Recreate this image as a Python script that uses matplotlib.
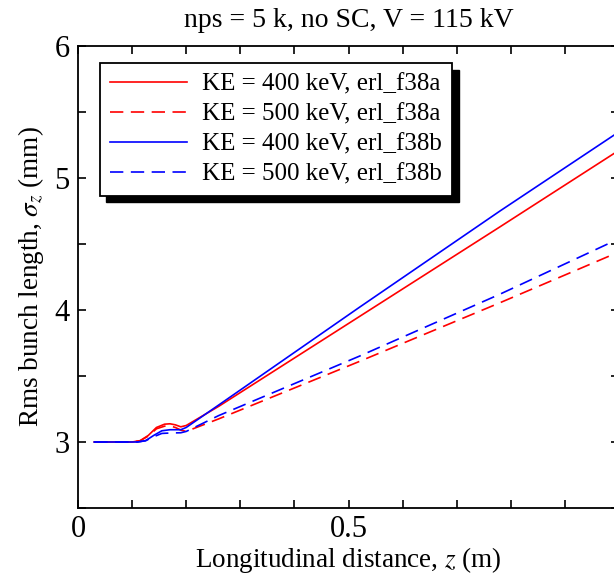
import matplotlib
matplotlib.use("Agg")
import matplotlib.pyplot as plt
from matplotlib.patches import Rectangle
from matplotlib.transforms import IdentityTransform
from matplotlib.ticker import MultipleLocator

plt.rcParams['font.family'] = ['Liberation Serif', 'DejaVu Serif']
plt.rcParams['mathtext.fontset'] = 'stix'

title = "nps = 5 k, no SC, V = 115 kV"
xlabel = r"Longitudinal distance, $z$ (m)"
ylabel = r"Rms bunch length, $\sigma_z$ (mm)"

labels = ["KE = 400 keV, erl_f38a", "KE = 500 keV, erl_f38a",
          "KE = 400 keV, erl_f38b", "KE = 500 keV, erl_f38b"]

# KE = 400 keV, erl_f38a
z_a400 = [0.03, 0.10, 0.115, 0.13, 0.145, 0.16, 0.17, 0.18, 0.19, 0.20, 0.26, 0.52, 0.78, 1.0]
s_a400 = [3.00, 3.00, 3.01, 3.05, 3.11, 3.135, 3.138, 3.13, 3.115, 3.125, 3.27, 3.95, 4.63, 5.21]
# KE = 500 keV, erl_f38a
z_a500 = [0.03, 0.10, 0.115, 0.13, 0.145, 0.16, 0.17, 0.18, 0.19, 0.20, 0.26, 0.52, 0.78, 1.0]
s_a500 = [3.00, 3.00, 3.01, 3.045, 3.10, 3.12, 3.122, 3.11, 3.09, 3.08, 3.175, 3.61, 4.055, 4.44]
# KE = 400 keV, erl_f38b
z_b400 = [0.03, 0.11, 0.125, 0.14, 0.155, 0.17, 0.19, 0.20, 0.26, 0.52, 0.78, 1.0]
s_b400 = [3.00, 3.00, 3.01, 3.05, 3.085, 3.093, 3.093, 3.11, 3.28, 4.02, 4.75, 5.35]
# KE = 500 keV, erl_f38b
z_b500 = [0.03, 0.11, 0.125, 0.14, 0.155, 0.17, 0.19, 0.20, 0.26, 0.52, 0.78, 1.0]
s_b500 = [3.00, 3.00, 3.01, 3.04, 3.065, 3.068, 3.07, 3.08, 3.20, 3.65, 4.12, 4.54]

xticks = [0, 0.5, 1]
xticklabels = ["0", "0.5", "1"]
yticks = [3, 4, 5, 6]
yticklabels = ["3", "4", "5", "6"]

fig = plt.figure(figsize=(6.14, 5.76), dpi=100)
ax = fig.add_axes([78/614, 68/576, 541/614, 462/576])

lw = 1.2
dash = (8, 4.5)
ax.plot(z_a400, s_a400, color='red', lw=lw, label=labels[0])
ax.plot(z_a500, s_a500, color='red', lw=lw, dashes=dash, label=labels[1])
ax.plot(z_b400, s_b400, color='blue', lw=lw, label=labels[2])
ax.plot(z_b500, s_b500, color='blue', lw=lw, dashes=dash, label=labels[3])

ax.set_xlim(0, 1)
ax.set_ylim(2.5, 6)
ax.set_xticks(xticks)
ax.set_xticklabels(xticklabels)
ax.set_yticks(yticks)
ax.set_yticklabels(yticklabels)
ax.xaxis.set_minor_locator(MultipleLocator(0.1))
ax.yaxis.set_minor_locator(MultipleLocator(0.5))
ax.tick_params(which='both', direction='in', top=True, right=True,
               length=6, width=1.2, labelsize=22)
ax.tick_params(axis='x', which='both', pad=5)
ax.tick_params(axis='y', which='both', pad=6)
for sp in ax.spines.values():
    sp.set_linewidth(1.3)

ax.set_title(title, fontsize=20, pad=14)
ax.set_xlabel(xlabel, fontsize=19.5, labelpad=1)
ax.set_ylabel(ylabel, fontsize=19.5, labelpad=6)

leg = ax.legend(loc='upper left', bbox_to_anchor=(0.04, 0.963), borderaxespad=0,
                fontsize=18, frameon=True, fancybox=False, edgecolor='black',
                framealpha=1, handlelength=3.1, handletextpad=0.6,
                labelspacing=0.3, borderpad=0.4)
leg.get_frame().set_linewidth(1.3)
leg.set_zorder(6)

fig.canvas.draw()
bb = leg.get_frame().get_window_extent(fig.canvas.get_renderer())
off = 6.5
shadow = Rectangle((bb.x0 + off, bb.y0 - off), bb.width, bb.height,
                   transform=IdentityTransform(), facecolor='black',
                   edgecolor='black', zorder=5.5, clip_on=False)
ax.add_artist(shadow)

fig.savefig("out.png", dpi=100)
